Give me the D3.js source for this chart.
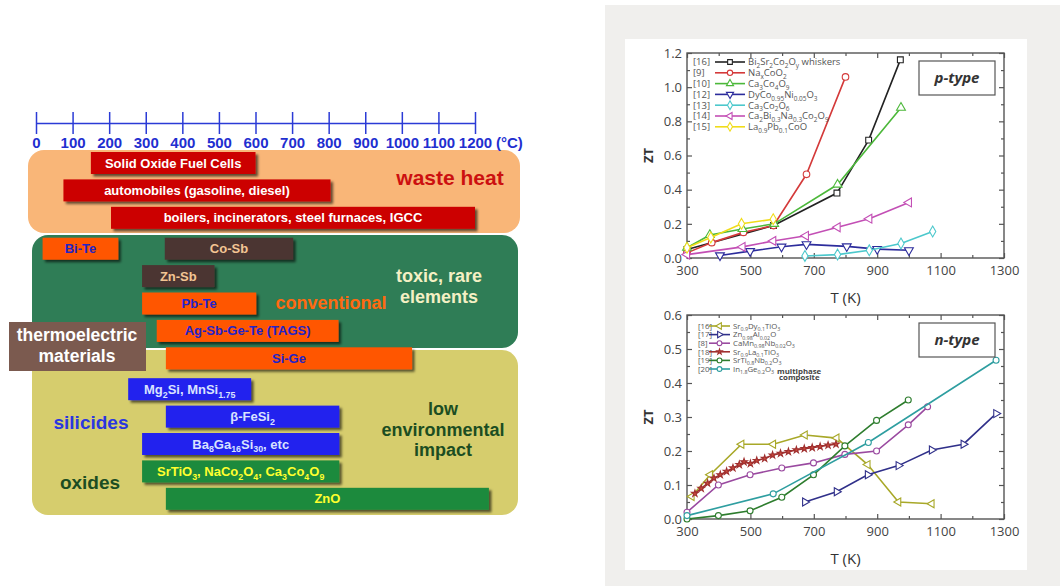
<!DOCTYPE html>
<html>
<head>
<meta charset="utf-8">
<script src="https://cdn.jsdelivr.net/npm/d3@7"></script>
<style>
body { margin: 0; background: #fff; }
svg { display: block; }
</style>
</head>
<body>
<svg id="chart" width="1060" height="586"></svg>
<script>
// ---- left: operating temperature ranges (°C) ----
const tempTicks = d3.range(0, 1201, 100)
const barNames = ["Solid Oxide Fuel Cells", "automobiles (gasoline, diesel)", "boilers, incinerators, steel furnaces, IGCC",
    "Bi-Te", "Co-Sb", "Zn-Sb", "Pb-Te", "Ag-Sb-Ge-Te (TAGS)", "Si-Ge",
    "Mg{2}Si, MnSi{1.75}", "β-FeSi{2}", "Ba{8}Ga{16}Si{30}, etc", "SrTiO{3}, NaCo{2}O{4}, Ca{3}Co{4}O{9}", "ZnO"]
const barRow = [0, 1, 2, 3, 3, 4, 5, 6, 7, 8, 9, 10, 11, 12]
const barFrom = [150, 75, 205, 18, 352, 290, 290, 330, 355, 252, 355, 290, 290, 355]
const barTo = [600, 805, 1200, 225, 703, 488, 602, 827, 1028, 588, 829, 829, 829, 1238]
const barKind = ["heat", "heat", "heat", "conv", "cosb", "cosb", "conv", "conv", "conv", "sil", "sil", "sil", "ox", "ox"]

// ---- right: ZT vs T (K) ----
const tempK = [300, 500, 700, 900, 1100, 1300]
const ztTop = [0, 0.2, 0.4, 0.6, 0.8, 1.0, 1.2]
const ztBottom = [0, 0.1, 0.2, 0.3, 0.4, 0.5, 0.6]

// p-type
const pBiSrCoO = [[300, 0.05], [573, 0.19], [773, 0.38], [873, 0.69], [973, 1.16]]
const pNaCoO = [[300, 0.03], [378, 0.09], [478, 0.15], [573, 0.19], [677, 0.49], [800, 1.06]]
const pCa3Co4O9 = [[300, 0.06], [372, 0.135], [475, 0.17], [575, 0.2], [775, 0.43], [975, 0.88]]
const pDyCoNiO = [[404, 0.015], [499, 0.04], [598, 0.066], [677, 0.08], [804, 0.068], [900, 0.052], [1000, 0.045]]
const pCa3Co2O6 = [[672, 0.012], [775, 0.02], [875, 0.045], [975, 0.085], [1075, 0.155]]
const pCaBiNaCoO = [[300, 0.02], [475, 0.065], [572, 0.1], [675, 0.13], [775, 0.18], [875, 0.23], [1000, 0.325]]
const pLaPbCoO = [[300, 0.06], [375, 0.12], [472, 0.2], [572, 0.227]]

// n-type
const nSrDyTiO = [[315, 0.066], [373, 0.13], [472, 0.22], [572, 0.22], [672, 0.247], [772, 0.238], [870, 0.16], [967, 0.05], [1072, 0.045]]
const nZnAlO = [[672, 0.05], [772, 0.08], [870, 0.13], [967, 0.157], [1072, 0.203], [1172, 0.22], [1275, 0.31]]
const nCaMnNbO = [[300, 0.02], [399, 0.1], [499, 0.13], [599, 0.15], [699, 0.165], [798, 0.19], [898, 0.2], [998, 0.277], [1059, 0.33]]
const nSrLaTiO = [[325, 0.075], [345, 0.09], [365, 0.105], [385, 0.12], [405, 0.13], [425, 0.14], [445, 0.15], [465, 0.16], [480, 0.168],
    [500, 0.163], [520, 0.172], [545, 0.178], [570, 0.188], [595, 0.193], [620, 0.198], [645, 0.203], [670, 0.207], [695, 0.21],
    [720, 0.213], [745, 0.217], [770, 0.22]]
const nSrTiNbO = [[300, 0], [399, 0.01], [499, 0.024], [599, 0.064], [699, 0.13], [798, 0.215], [898, 0.29], [998, 0.35]]
const nInGeO = [[300, 0.01], [572, 0.074], [872, 0.225], [1275, 0.467]]

const svg = d3.select("#chart")
const font = "'Liberation Sans', Arial, sans-serif"
const plotFont = "'Open Sans', 'Noto Sans', sans-serif"

// text with {subscript} parts
function rich(sel, str, size) {
    const parts = str.split(/\{([^}]*)\}/)
    const shift = size * 0.3
    let down = false
    parts.forEach((p, i) => {
        if (p === "") return
        const t = sel.append("tspan").text(p)
        if (i % 2 === 1) {
            t.attr("font-size", size * 0.68)
            if (!down) { t.attr("dy", shift); down = true }
        } else if (down) {
            t.attr("dy", -shift); down = false
        }
    })
    return sel
}

const defs = svg.append("defs")
defs.append("filter").attr("id", "shadow").attr("x", "-5%").attr("y", "-20%").attr("width", "115%").attr("height", "160%")
    .append("feDropShadow").attr("dx", 2.5).attr("dy", 2.5).attr("stdDeviation", 1)
    .attr("flood-color", "#000").attr("flood-opacity", 0.6)

// ---------- left diagram ----------
const tempScale = d3.scaleLinear().domain([0, 1200]).range([36, 475])

const regions = [
    { x: 28, y: 150, w: 492, h: 83, fill: "#f9b678" },
    { x: 32, y: 235, w: 486, h: 113, fill: "#2f7d56" },
    { x: 32, y: 350, w: 486, h: 165, fill: "#d6cd6d" }
]
svg.append("g").selectAll("rect").data(regions).join("rect")
    .attr("x", d => d.x).attr("y", d => d.y).attr("width", d => d.w).attr("height", d => d.h)
    .attr("rx", 16).attr("fill", d => d.fill)

const axisG = svg.append("g").attr("transform", "translate(0,123)")
    .call(d3.axisBottom(tempScale).tickValues(tempTicks).tickFormat(d3.format("d"))
        .tickSizeInner(11).tickSizeOuter(0).tickPadding(3))
axisG.select(".domain").attr("stroke", "#2b3bd6").attr("stroke-width", 1.5)
axisG.selectAll(".tick line").attr("y1", -11).attr("stroke", "#2b3bd6").attr("stroke-width", 1.5)
axisG.selectAll(".tick text").attr("fill", "#1f2fd0").attr("font-family", font)
    .attr("font-weight", "bold").attr("font-size", 15)
axisG.append("text").attr("x", tempScale(1200) + 21).attr("y", 14).attr("dy", "0.71em")
    .attr("fill", "#1f2fd0").attr("font-family", font).attr("font-weight", "bold").attr("font-size", 15)
    .attr("text-anchor", "start").text("(°C)")

const kindStyle = {
    heat: { fill: "#cc0000", text: "#ffffff" },
    conv: { fill: "#ff5600", text: "#2323c8" },
    cosb: { fill: "#4b3531", text: "#f3c594" },
    sil: { fill: "#2222ee", text: "#d9e2ff" },
    ox: { fill: "#1f8a3c", text: "#ffff2e" }
}
const rowY = i => 152 + i * 27.4 + (i >= 8 ? 2 : i >= 3 ? 1 : 0) * 3.5
const barH = 22

// thermoelectric materials label box
const tmBox = svg.append("g")
tmBox.append("rect").attr("x", 9).attr("y", 322).attr("width", 137).attr("height", 49).attr("fill", "#7b5a4f")
tmBox.selectAll("text").data(["thermoelectric", "materials"]).join("text")
    .attr("x", 77).attr("y", (d, i) => 341 + i * 21).attr("text-anchor", "middle")
    .attr("fill", "#fff").attr("font-family", font).attr("font-weight", "bold").attr("font-size", 17.5)
    .text(d => d)

const bars = svg.append("g").selectAll("g").data(barNames).join("g")
bars.append("rect")
    .attr("x", (d, i) => tempScale(barFrom[i]))
    .attr("y", (d, i) => rowY(barRow[i]))
    .attr("width", (d, i) => tempScale(barTo[i]) - tempScale(barFrom[i]))
    .attr("height", barH)
    .attr("fill", (d, i) => kindStyle[barKind[i]].fill)
    .attr("filter", "url(#shadow)")
bars.append("text")
    .attr("x", (d, i) => (tempScale(barFrom[i]) + tempScale(barTo[i])) / 2)
    .attr("y", (d, i) => rowY(barRow[i]) + 15.5)
    .attr("text-anchor", "middle")
    .attr("fill", (d, i) => kindStyle[barKind[i]].text)
    .attr("font-family", font).attr("font-weight", "bold").attr("font-size", 13)
    .each(function(d) { rich(d3.select(this), d, 13) })

const notes = [
    { lines: ["waste heat"], x: 450, y: 185, color: "#cc1010", size: 21 },
    { lines: ["toxic, rare", "elements"], x: 439, y: 282, color: "#f4f0c4", size: 18 },
    { lines: ["conventional"], x: 331, y: 309, color: "#ff6a10", size: 18 },
    { lines: ["silicides"], x: 91, y: 429, color: "#2a36e0", size: 19 },
    { lines: ["oxides"], x: 90, y: 489, color: "#1c4d22", size: 19 },
    { lines: ["low", "environmental", "impact"], x: 443, y: 415, color: "#1c4d22", size: 18 }
]
notes.forEach(n => {
    svg.append("text").attr("x", n.x).attr("y", n.y).attr("text-anchor", "middle")
        .attr("fill", n.color).attr("font-family", font).attr("font-weight", "bold").attr("font-size", n.size)
        .selectAll("tspan").data(n.lines).join("tspan")
            .attr("x", n.x).attr("dy", (d, i) => i ? n.size * 1.15 : 0).text(d => d)
})

// ---------- right panel ----------
svg.append("rect").attr("x", 605).attr("y", 5).attr("width", 455).attr("height", 581).attr("fill", "#f0efed")
svg.append("rect").attr("x", 625).attr("y", 39).attr("width", 402).attr("height", 531).attr("fill", "#fff")

const pSeries = [
    { ref: "[16]", name: "Bi{2}Sr{2}Co{2}O{y} whiskers", data: pBiSrCoO, color: "#222222", sym: "square" },
    { ref: "[9]", name: "Na{x}CoO{2}", data: pNaCoO, color: "#d43a3a", sym: "circle" },
    { ref: "[10]", name: "Ca{3}Co{4}O{9}", data: pCa3Co4O9, color: "#4cb83a", sym: "up" },
    { ref: "[12]", name: "DyCo{0.95}Ni{0.05}O{3}", data: pDyCoNiO, color: "#2c2c9c", sym: "down" },
    { ref: "[13]", name: "Ca{3}Co{2}O{6}", data: pCa3Co2O6, color: "#4cc8cc", sym: "diamond" },
    { ref: "[14]", name: "Ca{2}Bi{0.3}Na{0.3}Co{2}O{9}", data: pCaBiNaCoO, color: "#c34fb5", sym: "left" },
    { ref: "[15]", name: "La{0.9}Pb{0.1}CoO", data: pLaPbCoO, color: "#f0dc1a", sym: "diamond" }
]
const nSeries = [
    { ref: "[16]", name: "Sr{0.9}Dy{0.1}TiO{3}", data: nSrDyTiO, color: "#a8a828", sym: "left" },
    { ref: "[17]", name: "Zn{0.98}Al{0.02}O", data: nZnAlO, color: "#30308a", sym: "right" },
    { ref: "[8]", name: "CaMn{0.98}Nb{0.02}O{3}", data: nCaMnNbO, color: "#9a4aa0", sym: "circle" },
    { ref: "[18]", name: "Sr{0.9}La{0.1}TiO{3}", data: nSrLaTiO, color: "#a03030", sym: "star" },
    { ref: "[19]", name: "SrTi{0.8}Nb{0.2}O{3}", data: nSrTiNbO, color: "#2e7d2e", sym: "circle" },
    { ref: "[20]", name: "In{1.8}Ge{0.2}O{3}", data: nInGeO, color: "#2e9ea0", sym: "circle", extra: true }
]

function marker(sym, size) {
    const types = { square: d3.symbolSquare, circle: d3.symbolCircle, diamond: d3.symbolDiamond, star: d3.symbolStar }
    const t = types[sym] || d3.symbolTriangle
    const rot = { up: 0, down: 180, left: -90, right: 90 }[sym] || 0
    return { d: d3.symbol().type(t).size(sym === "star" ? size * 0.5 : size)(), rot: rot }
}

function drawPlot(cfg) {
    const x = d3.scaleLinear().domain([300, 1300]).range([cfg.left, cfg.right])
    const y = d3.scaleLinear().domain([0, cfg.yMax]).range([cfg.bottom, cfg.top])
    const g = svg.append("g")
    const styleAxis = a => {
        a.select(".domain").remove()
        a.selectAll(".tick line").attr("stroke", "#555").attr("stroke-width", 1.2)
        a.selectAll(".tick text").attr("fill", "#444").attr("font-family", plotFont).attr("font-size", 13)
    }
    const minorX = d3.range(400, 1300, 200)
    const minorY = cfg.yTicks.slice(1).map(v => v - cfg.yTicks[1] / 2)

    g.append("g").attr("transform", `translate(0,${cfg.bottom})`)
        .call(d3.axisBottom(x).tickValues(tempK).tickFormat(d3.format("d")).tickSize(-5).tickPadding(8)).call(styleAxis)
    g.append("g").attr("transform", `translate(0,${cfg.bottom})`)
        .call(d3.axisBottom(x).tickValues(minorX).tickSize(-3).tickFormat("")).call(styleAxis)
    g.append("g").attr("transform", `translate(0,${cfg.top})`)
        .call(d3.axisTop(x).tickValues(tempK).tickSize(-5).tickFormat("")).call(styleAxis)
    g.append("g").attr("transform", `translate(0,${cfg.top})`)
        .call(d3.axisTop(x).tickValues(minorX).tickSize(-3).tickFormat("")).call(styleAxis)
    g.append("g").attr("transform", `translate(${cfg.left},0)`)
        .call(d3.axisLeft(y).tickValues(cfg.yTicks).tickSize(-5).tickPadding(5).tickFormat(d3.format(".1f"))).call(styleAxis)
    g.append("g").attr("transform", `translate(${cfg.left},0)`)
        .call(d3.axisLeft(y).tickValues(minorY).tickSize(-3).tickFormat("")).call(styleAxis)
    g.append("g").attr("transform", `translate(${cfg.right},0)`)
        .call(d3.axisRight(y).tickValues(cfg.yTicks).tickSize(-5).tickFormat("")).call(styleAxis)
    g.append("g").attr("transform", `translate(${cfg.right},0)`)
        .call(d3.axisRight(y).tickValues(minorY).tickSize(-3).tickFormat("")).call(styleAxis)

    g.append("rect").attr("x", cfg.left).attr("y", cfg.top)
        .attr("width", cfg.right - cfg.left).attr("height", cfg.bottom - cfg.top)
        .attr("fill", "none").attr("stroke", "#555").attr("stroke-width", 1.4)

    const line = d3.line().x(d => x(d[0])).y(d => y(d[1]))
    cfg.series.forEach(s => {
        g.append("path").attr("d", line(s.data)).attr("fill", "none")
            .attr("stroke", s.color).attr("stroke-width", 1.6)
        const m = marker(s.sym, cfg.markSize)
        g.append("g").selectAll("path").data(s.data).join("path")
            .attr("d", m.d)
            .attr("transform", d => `translate(${x(d[0])},${y(d[1])}) rotate(${m.rot})`)
            .attr("fill", s.sym === "star" ? "#c94a3a" : "#fff")
            .attr("stroke", s.color).attr("stroke-width", 1.1)
    })

    // legend
    const lg = g.append("g").attr("font-family", plotFont).attr("fill", "#555").attr("font-size", cfg.lgSize)
    cfg.series.forEach((s, i) => {
        const ly = cfg.lgTop + i * cfg.lgStep
        lg.append("text").attr("x", cfg.lgRef).attr("y", ly + cfg.lgSize * 0.35).text(s.ref)
        lg.append("line").attr("x1", cfg.lgLine[0]).attr("x2", cfg.lgLine[1]).attr("y1", ly).attr("y2", ly)
            .attr("stroke", s.color).attr("stroke-width", 1.6)
        const m = marker(s.sym, cfg.markSize * 0.65)
        lg.append("path").attr("d", m.d)
            .attr("transform", `translate(${(cfg.lgLine[0] + cfg.lgLine[1]) / 2},${ly}) rotate(${m.rot})`)
            .attr("fill", s.sym === "star" ? "#c94a3a" : "#fff").attr("stroke", s.color).attr("stroke-width", 1.1)
        const t = lg.append("text").attr("x", cfg.lgText).attr("y", ly + cfg.lgSize * 0.35)
        rich(t, s.name, cfg.lgSize)
        if (s.extra) {
            t.append("tspan").attr("dx", 3).attr("font-weight", "bold").attr("fill", "#444").text("multiphase")
            const bb = t.node().getBBox()
            lg.append("text").attr("x", bb.x + bb.width - 2).attr("y", ly + cfg.lgSize * 0.35 + cfg.lgSize * 1.1)
                .attr("text-anchor", "end").attr("font-weight", "bold").attr("fill", "#444").text("composite")
        }
    })

    // type box
    g.append("rect").attr("x", cfg.right - 85).attr("y", cfg.top + 8).attr("width", 76).attr("height", 34)
        .attr("fill", "#fff").attr("stroke", "#555").attr("stroke-width", 1.2)
    g.append("text").attr("x", cfg.right - 47).attr("y", cfg.top + 30).attr("text-anchor", "middle")
        .attr("font-family", plotFont).attr("font-weight", "bold").attr("font-style", "italic")
        .attr("font-size", 15).attr("fill", "#333").text(cfg.type)

    g.append("text").attr("x", (cfg.left + cfg.right) / 2).attr("y", cfg.bottom + 45).attr("text-anchor", "middle")
        .attr("font-family", plotFont).attr("font-size", 15).attr("fill", "#333").text("T (K)")
    g.append("text").attr("transform", `translate(653,${(cfg.top + cfg.bottom) / 2}) rotate(-90)`)
        .attr("text-anchor", "middle").attr("font-family", plotFont).attr("font-weight", "bold")
        .attr("font-size", 13).attr("fill", "#333").text("ZT")
}

drawPlot({
    left: 687, right: 1004, top: 53, bottom: 258, yMax: 1.2, yTicks: ztTop, series: pSeries, markSize: 34,
    lgTop: 62, lgStep: 10.8, lgSize: 9.5, lgRef: 693, lgLine: [715, 745], lgText: 748, type: "p-type"
})
drawPlot({
    left: 687, right: 1004, top: 315, bottom: 519, yMax: 0.6, yTicks: ztBottom, series: nSeries, markSize: 28,
    lgTop: 326, lgStep: 8.6, lgSize: 7.8, lgRef: 698, lgLine: [709, 730], lgText: 733, type: "n-type"
})
</script>
</body>
</html>
